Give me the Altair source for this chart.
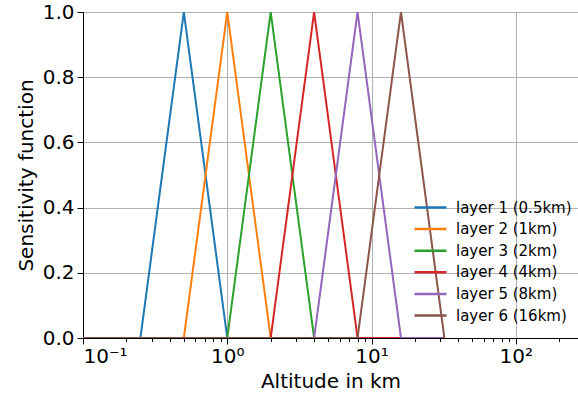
import altair as alt
import pandas as pd

altitudes = [0.1, 0.25, 0.5, 1, 2, 4, 8, 16, 32]
layer_names = ["layer 1 (0.5km)", "layer 2 (1km)", "layer 3 (2km)",
               "layer 4 (4km)", "layer 5 (8km)", "layer 6 (16km)"]
layer_values = [
    [0, 0, 1, 0, 0, 0, 0, 0, 0],
    [0, 0, 0, 1, 0, 0, 0, 0, 0],
    [0, 0, 0, 0, 1, 0, 0, 0, 0],
    [0, 0, 0, 0, 0, 1, 0, 0, 0],
    [0, 0, 0, 0, 0, 0, 1, 0, 0],
    [0, 0, 0, 0, 0, 0, 0, 1, 0],
]
colors = ["#1f77b4", "#ff7f0e", "#2ca02c", "#d62728", "#9467bd", "#8c564b"]

x_ticks = [0.1, 0.2, 0.3, 0.4, 0.5, 0.6, 0.7, 0.8, 0.9,
           1, 2, 3, 4, 5, 6, 7, 8, 9,
           10, 20, 30, 40, 50, 60, 70, 80, 90,
           100, 200]
y_ticks = [0.0, 0.2, 0.4, 0.6, 0.8, 1.0]

rows = []
for i, (name, vals) in enumerate(zip(layer_names, layer_values)):
    for j, (a, v) in enumerate(zip(altitudes, vals)):
        rows.append({"layer": name, "order": i, "idx": j, "alt": a, "s": v})
df = pd.DataFrame(rows)

major = "abs(log(datum.value)/LN10 - round(log(datum.value)/LN10)) < 1e-6"
label_expr = ("datum.value == 0.1 ? '10⁻¹' : datum.value == 1 ? '10⁰' : "
              "datum.value == 10 ? '10¹' : datum.value == 100 ? '10²' : ''")

font = "DejaVu Sans"

chart = alt.Chart(df).mark_line(strokeWidth=2, clip=True).encode(
    x=alt.X("alt:Q",
            scale=alt.Scale(type="log", domain=[0.1, 270], nice=False),
            axis=alt.Axis(title="Altitude in km", values=x_ticks,
                          labelExpr=label_expr, labelOverlap=False,
                          labelFontSize=20, titleFontSize=20,
                          titleFontWeight="normal", titlePadding=5,
                          tickSize={"condition": {"test": major, "value": 6}, "value": 3.5},
                          gridOpacity={"condition": {"test": major, "value": 1}, "value": 0},
                          labelPadding=2)),
    y=alt.Y("s:Q",
            scale=alt.Scale(domain=[0, 1], nice=False),
            axis=alt.Axis(title="Sensitivity function", values=y_ticks, format=".1f",
                          labelFontSize=20, titleFontSize=20,
                          titleFontWeight="normal", tickSize=6,
                          titlePadding=6, labelPadding=3)),
    color=alt.Color("layer:N",
                    scale=alt.Scale(domain=layer_names, range=colors),
                    legend=alt.Legend(title=None, orient="none",
                                      legendX=336, legendY=184,
                                      symbolType="M-1.6,0H1.6", symbolSize=400,
                                      symbolStrokeWidth=2.5,
                                      labelFontSize=15, labelOffset=14,
                                      rowPadding=1.6, labelFont=font)),
    order=alt.Order("idx:Q"),
    detail="order:O",
).properties(
    width=495, height=326,
    padding={"left": 83, "top": 12, "right": 0, "bottom": 60},
    autosize=alt.AutoSizeParams(type="none"),
).configure(
    font=font,
).configure_axis(
    labelFont=font, titleFont=font,
    labelColor="black", titleColor="black",
    domainColor="black", tickColor="black",
    gridColor="#b0b0b0", gridWidth=1,
).configure_view(
    stroke="black", strokeWidth=1,
)

chart.save("out.html", embed_options={"renderer": "svg", "actions": False})
